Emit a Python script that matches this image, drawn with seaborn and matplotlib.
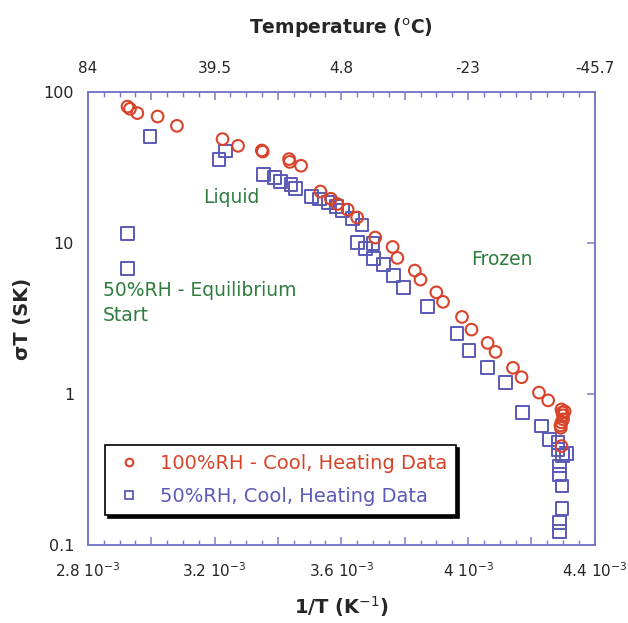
import numpy as np
import pandas as pd
import seaborn as sns
import matplotlib
matplotlib.use("Agg")
import matplotlib.pyplot as plt
from matplotlib.ticker import FixedLocator, MultipleLocator
from matplotlib.lines import Line2D

# ---- data (x in units of 1e-3 K^-1) ----
red_x = [2.925, 2.933, 2.956, 3.020, 3.081, 3.225, 3.274, 3.349, 3.352, 3.435, 3.437,
         3.473, 3.534, 3.567, 3.587, 3.620, 3.650, 3.707, 3.762, 3.777, 3.832, 3.850,
         3.900, 3.921, 3.981, 4.011, 4.062, 4.087, 4.142, 4.169, 4.224, 4.253, 4.295,
         4.298, 4.300, 4.300, 4.295, 4.292, 4.293, 4.305, 4.295]
red_y = [80.5, 77.8, 72.9, 69.2, 60.0, 49.0, 44.2, 41.2, 40.5, 36.1, 34.6,
         32.6, 22.0, 19.7, 18.2, 16.7, 14.8, 10.9, 9.44, 7.98, 6.58, 5.73,
         4.72, 4.08, 3.24, 2.67, 2.18, 1.90, 1.49, 1.29, 1.02, 0.906, 0.789,
         0.754, 0.721, 0.678, 0.648, 0.618, 0.596, 0.766, 0.451]

blue_x = [2.925, 2.925, 2.996, 3.214, 3.235, 3.354, 3.388, 3.407, 3.441, 3.456,
          3.506, 3.532, 3.558, 3.585, 3.604, 3.635, 3.665, 3.650, 3.677, 3.700,
          3.702, 3.732, 3.766, 3.797, 3.871, 3.965, 4.003, 4.061, 4.119, 4.172,
          4.232, 4.258, 4.284, 4.284, 4.311, 4.299, 4.289, 4.289, 4.297, 4.297,
          4.289, 4.289]
blue_y = [11.6, 6.75, 51.0, 35.7, 40.8, 28.7, 27.4, 25.7, 24.4, 23.0,
          20.5, 19.6, 18.5, 17.4, 16.4, 14.5, 13.2, 10.1, 9.16, 9.93,
          7.89, 7.21, 6.12, 5.10, 3.81, 2.51, 1.95, 1.49, 1.19, 0.757,
          0.612, 0.500, 0.475, 0.429, 0.402, 0.392, 0.333, 0.293, 0.245, 0.174,
          0.140, 0.122]

bottom_ticks = [2.8, 3.2, 3.6, 4.0, 4.4]
bottom_labels = ["2.8 10$^{-3}$", "3.2 10$^{-3}$", "3.6 10$^{-3}$", "4 10$^{-3}$", "4.4 10$^{-3}$"]
mid_ticks = [3.0, 3.4, 3.8, 4.2]
top_labels = ["84", "39.5", "4.8", "-23", "-45.7"]
y_ticks = [0.1, 1, 10, 100]
y_labels = ["0.1", "1", "10", "100"]

series_names = ["100%RH - Cool, Heating Data", "50%RH, Cool, Heating Data"]

# ---- styling ----
RED = "#d8432a"
BLUE = "#5a5ab8"
GREEN = "#2e7d3e"
SPINE = "#7a7acc"

sns.set_style("white")
plt.rcParams["font.family"] = ["DejaVu Sans"]

fig = plt.figure(figsize=(6.28, 6.23), dpi=100)
ax = fig.add_axes([0.140, 0.1257, 0.807, 0.726])

df_r = pd.DataFrame({"x": red_x, "y": red_y})
df_b = pd.DataFrame({"x": blue_x, "y": blue_y})

sns.scatterplot(data=df_r, x="x", y="y", ax=ax, marker="o", s=70,
                facecolors="none", edgecolor=RED, linewidth=1.5, legend=False, zorder=3)
sns.scatterplot(data=df_b, x="x", y="y", ax=ax, marker="s", s=85,
                facecolors="none", edgecolor=BLUE, linewidth=1.4, legend=False, zorder=2)

ax.set_yscale("log")
ax.set_xlim(2.8, 4.4)
ax.set_ylim(0.1, 100)

for sp in ax.spines.values():
    sp.set_color(SPINE)
    sp.set_linewidth(1.2)


def style_x(axis_obj, labels, pad):
    ticks = sorted(bottom_ticks + mid_ticks)
    lab_map = dict(zip(bottom_ticks, labels))
    axis_obj.xaxis.set_major_locator(FixedLocator(ticks))
    axis_obj.set_xticklabels([lab_map.get(t, "") for t in ticks])
    axis_obj.xaxis.set_minor_locator(MultipleLocator(0.05))
    axis_obj.tick_params(axis="x", which="major", direction="in", length=6, width=1.1,
                         color=SPINE, labelsize=11, pad=pad)
    axis_obj.tick_params(axis="x", which="minor", direction="in", length=3.5, width=1.0,
                         color=SPINE)


style_x(ax, bottom_labels, 12)
ax.tick_params(axis="x", which="both", top=False)

ax.set_yticks(y_ticks)
ax.set_yticklabels(y_labels)
ax.yaxis.set_minor_locator(FixedLocator([]))
ax.tick_params(axis="y", which="major", direction="in", length=6, width=1.1,
               color=SPINE, labelsize=11.5, pad=10, right=True)

ax.set_xlabel("1/T (K$^{-1}$)", fontsize=14, fontweight="bold", labelpad=10)
ax.set_ylabel("σT (SK)", fontsize=14, fontweight="bold", labelpad=8)

# top axis
ax2 = ax.twiny()
ax2.set_xlim(ax.get_xlim())
style_x(ax2, top_labels, 12)
ax2.set_xlabel("Temperature ($^{\\rm o}$C)", fontsize=13.5, fontweight="bold", labelpad=19)
for sp in ax2.spines.values():
    sp.set_color(SPINE)
    sp.set_linewidth(1.2)

# annotations
ax.text(3.254, 20.0, "Liquid", color=GREEN, fontsize=13.5, ha="center", va="center")
ax.text(4.106, 7.78, "Frozen", color=GREEN, fontsize=13.5, ha="center", va="center")
ax.text(2.847, 4.0, "50%RH - Equilibrium\nStart", color=GREEN, fontsize=13.5,
        ha="left", va="center", linespacing=1.4)

handles = [
    Line2D([], [], marker="o", linestyle="none", markerfacecolor="none",
           markeredgecolor=RED, markeredgewidth=1.5, markersize=5.5),
    Line2D([], [], marker="s", linestyle="none", markerfacecolor="none",
           markeredgecolor=BLUE, markeredgewidth=1.3, markersize=5.5),
]
leg = ax.legend(handles, series_names, loc="lower left",
                bbox_to_anchor=(0.0335, 0.0657), fontsize=14, frameon=True,
                fancybox=False, shadow={"color": "black", "alpha": 1.0},
                edgecolor="black", borderpad=0.45, handletextpad=0.8, handlelength=1.6,
                labelspacing=0.75, borderaxespad=0)
leg.get_frame().set_linewidth(1.2)
for t, c in zip(leg.get_texts(), [RED, BLUE]):
    t.set_color(c)

fig.savefig("out.png", dpi=100, facecolor="white")
